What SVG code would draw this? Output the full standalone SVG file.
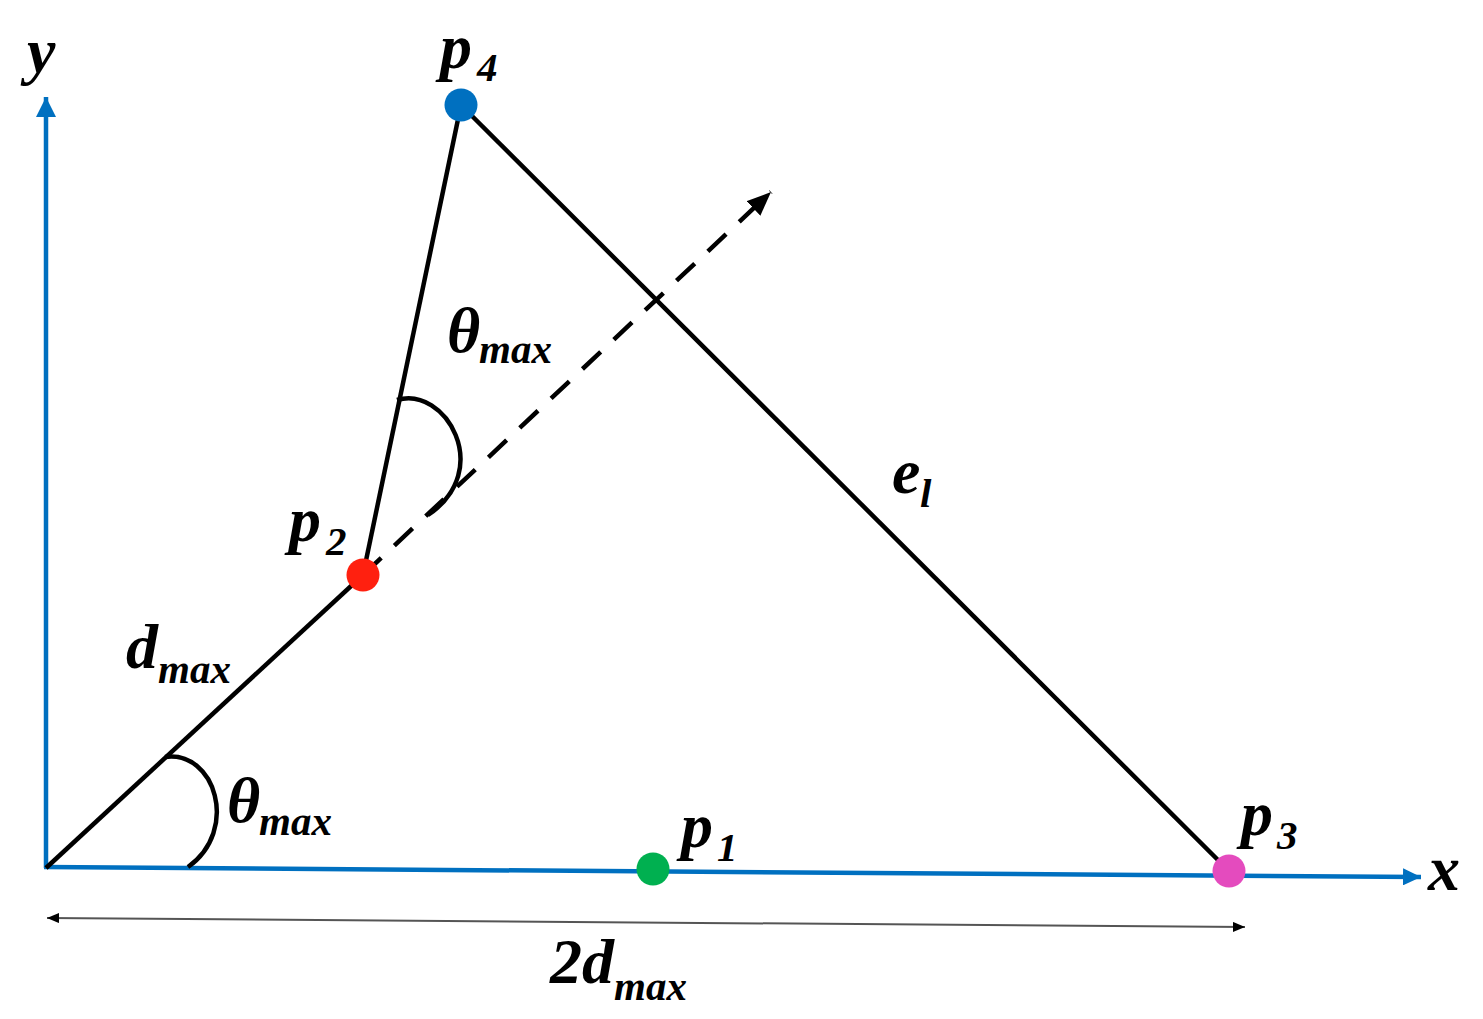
<svg xmlns="http://www.w3.org/2000/svg" width="1483" height="1019" viewBox="0 0 1483 1019">
<style>
.lbl{font-family:"Liberation Serif","Times New Roman",serif;font-weight:bold;font-style:italic;fill:#000}
.big{font-size:64px}
.sub{font-size:41px}
.edge{stroke:#000;stroke-width:4.5;fill:none}
.axis{stroke:#0070C0;stroke-width:4.5;fill:none}
</style>
<defs>
<marker id="axArrow" viewBox="0 0 20 20" refX="20" refY="10" markerWidth="20" markerHeight="20" markerUnits="userSpaceOnUse" orient="auto"><path d="M0,0 L20,10 L0,20 Z" fill="#0070C0"/></marker>
<marker id="axArrowX" viewBox="0 0 18 18" refX="18" refY="9" markerWidth="18" markerHeight="17" markerUnits="userSpaceOnUse" orient="auto" preserveAspectRatio="none"><path d="M0,0 L18,9 L0,18 Z" fill="#0070C0"/></marker>
<marker id="dashArrow" viewBox="0 0 24 20" refX="24" refY="10" markerWidth="24" markerHeight="20" markerUnits="userSpaceOnUse" orient="auto"><path d="M0,0 L24,10 L0,20 Z" fill="#000"/></marker>
<marker id="dimArrow" viewBox="0 0 12 10" refX="12" refY="5" markerWidth="12" markerHeight="10" markerUnits="userSpaceOnUse" orient="auto-start-reverse"><path d="M0,0 L12,5 L0,10 Z" fill="#000"/></marker>
</defs>
<g id="axes">
<line class="axis" x1="46" y1="868" x2="46" y2="97" marker-end="url(#axArrow)"/>
<line class="axis" x1="44" y1="867" x2="1421" y2="877" marker-end="url(#axArrowX)"/>
<text class="lbl big" x="27" y="72">y</text>
<text class="lbl big" x="1428" y="890">x</text>
</g>
<g id="connectors">
<line class="edge" x1="46" y1="868" x2="363" y2="575"/>
<line class="edge" x1="363" y1="575" x2="461" y2="105"/>
<line class="edge" x1="461" y1="105" x2="1229" y2="871"/>
<line class="edge" x1="363" y1="575" x2="771" y2="192" stroke-dasharray="25 18" marker-end="url(#dashArrow)"/>
<path class="edge" d="M397,400 C445,385 495,470 428,515"/>
<path class="edge" d="M165,757 C215,750 240,830 188,867"/>
<line x1="47" y1="918" x2="1245" y2="927" stroke="#555" stroke-width="2" marker-start="url(#dimArrow)" marker-end="url(#dimArrow)"/>
</g>
<g id="p4">
<circle cx="461" cy="105" r="16.5" fill="#0070C0"/>
<text class="lbl big" x="440" y="68">p</text><text class="lbl sub" x="477" y="81">4</text>
</g>
<g id="p2">
<circle cx="363" cy="575" r="16.5" fill="#FF200F"/>
<text class="lbl big" x="289" y="541">p</text><text class="lbl sub" x="326" y="555">2</text>
</g>
<g id="p1">
<circle cx="653" cy="869" r="16.5" fill="#00B050"/>
<text class="lbl big" x="681" y="847">p</text><text class="lbl sub" x="717" y="861">1</text>
</g>
<g id="p3">
<circle cx="1229" cy="871" r="16.5" fill="#E44BBE"/>
<text class="lbl big" x="1241" y="835">p</text><text class="lbl sub" x="1277" y="849">3</text>
</g>
<g id="labels">
<text class="lbl big" x="447" y="352">θ</text><text class="lbl sub" x="479" y="363">max</text>
<text class="lbl big" x="126" y="668">d</text><text class="lbl sub" x="158" y="683">max</text>
<text class="lbl big" x="227" y="822">θ</text><text class="lbl sub" x="259" y="835">max</text>
<text class="lbl big" x="892" y="493">e</text><text class="lbl sub" x="920" y="507">l</text>
<text class="lbl big" x="550" y="983">2d</text><text class="lbl sub" x="614" y="1000">max</text>
</g>
</svg>
